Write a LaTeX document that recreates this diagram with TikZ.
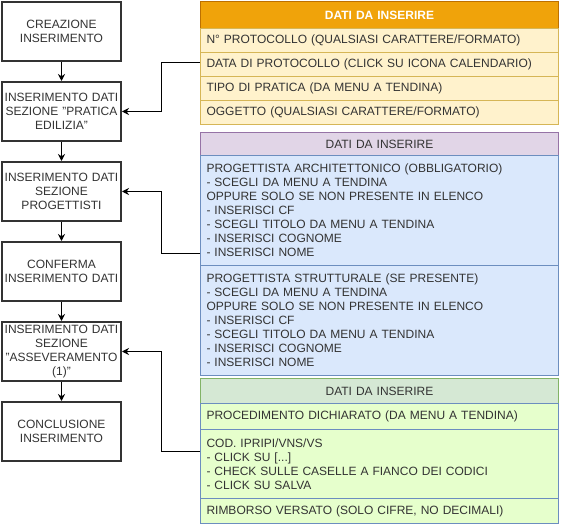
\documentclass[tikz,border=0pt]{standalone}
\usepackage{fontspec}
\setmainfont{Liberation Sans}
\usetikzlibrary{arrows.meta,calc}
\definecolor{txt}{HTML}{333333}
\definecolor{ohead}{HTML}{F0A30A}
\definecolor{oheadd}{HTML}{BD7000}
\definecolor{orow}{HTML}{FFF2CC}
\definecolor{orowd}{HTML}{D6B656}
\definecolor{phead}{HTML}{E1D5E7}
\definecolor{pheadd}{HTML}{9673A6}
\definecolor{brow}{HTML}{DAE8FC}
\definecolor{browd}{HTML}{6C8EBF}
\definecolor{ghead}{HTML}{D5E8D4}
\definecolor{gheadd}{HTML}{82B366}
\definecolor{grow}{HTML}{E6FFCC}
\begin{document}
\begin{tikzpicture}[x=1pt,y=-1pt,
  procbox/.style={draw=txt, line width=2pt, fill=white, minimum width=119pt, minimum height=59pt,
    text width=117pt, align=center, inner sep=0pt, font=\fontsize{12}{14}\selectfont, text=txt},
  trow/.style={anchor=north west, minimum width=358pt, text width=346pt, inner xsep=6pt, inner ysep=0pt,
    align=left, font=\fontsize{12}{14}\selectfont, text=txt, line width=1pt},
  thead/.style={trow, align=center},
  flow/.style={draw=black, line width=1pt, -{Stealth[length=7pt,width=7pt]}},
  conn/.style={draw=black, line width=1pt, -{Stealth[length=7pt,width=7pt]}},
]
\useasboundingbox (0,0) rectangle (562,526);

% left flow
\node[procbox] (b1) at (61.5,31.5) {CREAZIONE\\INSERIMENTO};
\node[procbox] (b2) at (61.5,111.5) {INSERIMENTO DATI\\SEZIONE "PRATICA\\EDILIZIA"};
\node[procbox] (b3) at (61.5,191.5) {INSERIMENTO DATI\\SEZIONE\\PROGETTISTI};
\node[procbox] (b4) at (61.5,271.5) {CONFERMA\\INSERIMENTO DATI};
\node[procbox] (b5) at (61.5,351.5) {INSERIMENTO DATI\\SEZIONE\\"ASSEVERAMENTO\\(1)"};
\node[procbox] (b6) at (61.5,431.5) {CONCLUSIONE\\INSERIMENTO};
\draw[flow] (b1) -- (b2);
\draw[flow] (b2) -- (b3);
\draw[flow] (b3) -- (b4);
\draw[flow] (b4) -- (b5);
\draw[flow] (b5) -- (b6);

% table 1
\node[thead, fill=ohead, draw=oheadd, minimum height=27pt, text=white, font=\fontsize{12}{14}\selectfont\bfseries] (t1h) at (200,1) {DATI DA INSERIRE};
\node[trow, fill=orow, draw=orowd, minimum height=24pt] (t1r1) at (200,28) {N° PROTOCOLLO (QUALSIASI CARATTERE/FORMATO)};
\node[trow, fill=orow, draw=orowd, minimum height=24pt] (t1r2) at (200,52) {DATA DI PROTOCOLLO (CLICK SU ICONA CALENDARIO)};
\node[trow, fill=orow, draw=orowd, minimum height=24pt] (t1r3) at (200,76) {TIPO DI PRATICA (DA MENU A TENDINA)};
\node[trow, fill=orow, draw=orowd, minimum height=24pt] (t1r4) at (200,100) {OGGETTO (QUALSIASI CARATTERE/FORMATO)};

% table 2
\node[thead, fill=phead, draw=pheadd, minimum height=23pt] (t2h) at (200,132) {DATI DA INSERIRE};
\node[trow, fill=brow, draw=browd, minimum height=110pt] (t2r1) at (200,155) {PROGETTISTA ARCHITETTONICO (OBBLIGATORIO)\\- SCEGLI DA MENU A TENDINA\\OPPURE SOLO SE NON PRESENTE IN ELENCO\\- INSERISCI CF\\- SCEGLI TITOLO DA MENU A TENDINA\\- INSERISCI COGNOME\\- INSERISCI NOME};
\node[trow, fill=brow, draw=browd, minimum height=110pt] (t2r2) at (200,265) {PROGETTISTA STRUTTURALE (SE PRESENTE)\\- SCEGLI DA MENU A TENDINA\\OPPURE SOLO SE NON PRESENTE IN ELENCO\\- INSERISCI CF\\- SCEGLI TITOLO DA MENU A TENDINA\\- INSERISCI COGNOME\\- INSERISCI NOME};

% table 3
\node[thead, fill=ghead, draw=gheadd, minimum height=25pt] (t3h) at (200,378) {DATI DA INSERIRE};
\node[trow, fill=grow, draw=browd, minimum height=26pt] (t3r1) at (200,403) {PROCEDIMENTO DICHIARATO (DA MENU A TENDINA)};
\node[trow, fill=grow, draw=browd, minimum height=69pt] (t3r2) at (200,429) {COD. IPRIPI/VNS/VS\\- CLICK SU [...]\\- CHECK SULLE CASELLE A FIANCO DEI CODICI\\- CLICK SU SALVA};
\node[trow, fill=grow, draw=browd, minimum height=25pt] (t3r3) at (200,498) {RIMBORSO VERSATO (SOLO CIFRE, NO DECIMALI)};

% connection points (table centres, left side)
\coordinate (t1w) at ($(t1h.north west)!0.5!(t1r4.south west)$);
\coordinate (t2w) at ($(t2h.north west)!0.5!(t2r2.south west)$);
\coordinate (t3w) at ($(t3h.north west)!0.5!(t3r3.south west)$);

\draw[conn] (t1w) -- ++(-39,0) |- (b2.east);
\draw[conn] (t2w) -- ++(-39,0) |- (b3.east);
\draw[conn] (t3w) -- ++(-39,0) |- (b5.east);
\end{tikzpicture}
\end{document}
